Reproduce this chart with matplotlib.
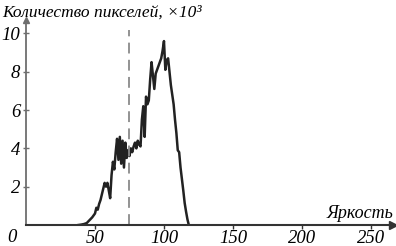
import matplotlib
matplotlib.use("Agg")
import matplotlib.pyplot as plt

brightness = [38, 40, 42, 44, 46, 48, 50, 51, 52, 53, 54, 55, 56, 57, 58, 59, 60, 61, 62, 63,
              64, 65, 66, 67, 68, 69, 70, 71, 72, 73, 74, 75, 76, 77, 78, 79, 80, 81, 82, 83,
              84, 85, 86, 87, 88, 89, 90, 91, 92, 93, 94, 95, 96, 97, 98, 99, 100, 101, 102, 103,
              104, 105, 106, 107, 108, 109, 110, 111, 112, 113, 114, 115, 116, 117, 118]
counts = [0, 0.02, 0.05, 0.1, 0.25, 0.4, 0.6, 0.9, 0.8, 1.1, 1.3, 1.6, 1.9, 2.2, 2.0, 2.2, 1.8, 1.4, 2.6, 3.3,
          2.9, 3.8, 4.5, 3.4, 4.6, 3.2, 4.4, 3.0, 4.3, 3.5, 3.9, 3.6, 4.0, 3.8, 4.1, 4.3, 4.0, 4.4, 4.2, 4.1,
          5.5, 6.2, 4.6, 6.7, 6.3, 6.5, 7.6, 8.5, 7.8, 7.1, 7.9, 8.1, 8.3, 8.5, 8.7, 9.1, 9.6, 8.1, 8.6, 8.7,
          8.0, 7.3, 6.8, 6.3, 5.5, 4.8, 3.9, 3.8, 3.0, 2.4, 1.8, 1.15, 0.7, 0.3, 0.0]
threshold = 75
xticks = [50, 100, 150, 200, 250]
yticks = [2, 4, 6, 8, 10]

W, H = 396, 246
fig = plt.figure(figsize=(W / 100, H / 100), dpi=100)
ax = fig.add_axes([26 / W, 21 / H, 367 / W, 205 / H])
ax.set_xlim(0, 266)
ax.set_ylim(0, 10.7)

font = dict(family="Liberation Serif", style="italic")
axcol = "#6e6e6e"

ax.plot(brightness, counts, color="#222222", lw=1.8, solid_joinstyle="round")
ax.plot([threshold, threshold], [0, 10.2], color="#8a8a8a", lw=1.3, dashes=(6, 3.5))

for s in ["top", "right"]:
    ax.spines[s].set_visible(False)
ax.spines["left"].set_color(axcol)
ax.spines["left"].set_linewidth(1.3)
ax.spines["bottom"].set_color("#333333")
ax.spines["bottom"].set_linewidth(1.5)

ax.set_xticks(xticks)
ax.set_yticks(yticks)
ax.set_xticklabels([str(v) for v in xticks], fontsize=13.5, **font)
ax.set_yticklabels([str(v) for v in yticks], fontsize=13.5, **font)
ax.tick_params(axis="x", direction="out", length=3, width=1, color="#333333", pad=0.5)
ax.tick_params(axis="y", direction="inout", length=4, width=1, color=axcol, pad=2)

# arrowheads
ax.plot(1, 0, marker=">", ms=6, color="#333333", transform=ax.transAxes, clip_on=False)
ax.plot(0, 1, marker="^", ms=5, color=axcol, transform=ax.transAxes, clip_on=False)

fig.text(2 / W, 1 - 17 / H, "Количество пикселей, ×10³", fontsize=12.5, ha="left",
         va="baseline", **font)
fig.text(393 / W, 1 - 218 / H, "Яркость", fontsize=13, ha="right", va="baseline", **font)
fig.text(12 / W, 1 - 242 / H, "0", fontsize=13.5, ha="center", va="baseline", **font)

fig.savefig("out.png", dpi=100)
